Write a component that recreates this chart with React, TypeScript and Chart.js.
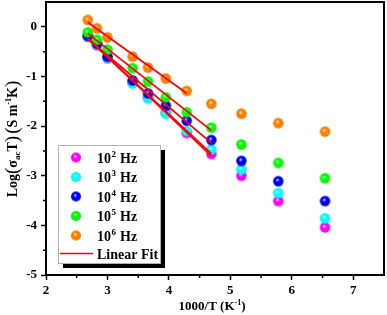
import React, { useEffect, useRef } from "react";
import { Chart, registerables } from "chart.js";

Chart.register(...registerables);

// 1000/T values (K^-1)
const xValues = [2.68, 2.83, 3.0, 3.41, 3.66, 3.95, 4.29, 4.69, 5.18, 5.78, 6.54];

// Log(sigma_ac T) per frequency
const f1e2 = [-0.2, -0.37, -0.63, -1.12, -1.42, -1.73, -2.14, -2.56, -3.0, -3.51, -4.04];
const f1e3 = [-0.19, -0.36, -0.62, -1.14, -1.44, -1.75, -2.1, -2.47, -2.87, -3.35, -3.86];
const f1e4 = [-0.18, -0.34, -0.6, -1.08, -1.34, -1.59, -1.89, -2.28, -2.7, -3.11, -3.51];
const f1e5 = [-0.11, -0.26, -0.46, -0.83, -1.1, -1.42, -1.72, -2.03, -2.37, -2.74, -3.05];
const f1e6 = [0.14, -0.03, -0.21, -0.6, -0.82, -1.04, -1.29, -1.55, -1.75, -1.94, -2.11];

const seriesValues = [f1e2, f1e3, f1e4, f1e5, f1e6];
const seriesExponents = ["2", "3", "4", "5", "6"];
const seriesLabels = ["10² Hz", "10³ Hz", "10⁴ Hz", "10⁵ Hz", "10⁶ Hz"];
const seriesColors = ["#ff00ff", "#00ffff", "#0000f0", "#00ff00", "#ff8000"];
const fitPointCounts = [8, 8, 8, 8, 7];
const fitLabel = "Linear Fit";

const xMinorTicks = [2.5, 3.5, 4.5, 5.5, 6.5];
const yMinorTicks = [-4.5, -3.5, -2.5, -1.5, -0.5];

const FONT = '"Liberation Serif", "Times New Roman", serif';

function shade(hex: string, f: number) {
  const n = parseInt(hex.slice(1), 16);
  let r = (n >> 16) & 255, g = (n >> 8) & 255, b = n & 255;
  if (f < 0) {
    r = Math.round(r * (1 + f)); g = Math.round(g * (1 + f)); b = Math.round(b * (1 + f));
  } else {
    r = Math.round(r + (255 - r) * f); g = Math.round(g + (255 - g) * f); b = Math.round(b + (255 - b) * f);
  }
  return `rgb(${r},${g},${b})`;
}

function makeBall(color: string, r: number) {
  const c = document.createElement("canvas");
  const s = Math.ceil(r * 2 + 2);
  c.width = s;
  c.height = s;
  const g = c.getContext("2d")!;
  const cx = s / 2, cy = s / 2;
  const grad = g.createRadialGradient(cx - r * 0.2, cy - r * 0.3, 0, cx, cy, r);
  grad.addColorStop(0, "#ffffff");
  grad.addColorStop(0.18, shade(color, 0.5));
  grad.addColorStop(0.4, color);
  grad.addColorStop(0.85, color);
  grad.addColorStop(1, shade(color, -0.15));
  g.fillStyle = grad;
  g.beginPath();
  g.arc(cx, cy, r, 0, Math.PI * 2);
  g.fill();
  return c;
}

function linearFit(xs: number[], ys: number[], n: number) {
  const xx = xs.slice(0, n), yy = ys.slice(0, n);
  const mx = xx.reduce((a, b) => a + b, 0) / n;
  const my = yy.reduce((a, b) => a + b, 0) / n;
  let sxy = 0, sxx = 0;
  for (let i = 0; i < n; i++) {
    sxy += (xx[i] - mx) * (yy[i] - my);
    sxx += (xx[i] - mx) * (xx[i] - mx);
  }
  const m = sxy / sxx;
  const b = my - m * mx;
  return [
    { x: xx[0], y: m * xx[0] + b },
    { x: xx[n - 1], y: m * xx[n - 1] + b },
  ];
}

type Seg = [string, number, number, boolean];

function drawSegs(ctx: CanvasRenderingContext2D, segs: Seg[], cx: number, baseY: number) {
  let total = 0;
  for (const [t, size, , bold] of segs) {
    ctx.font = `${bold ? "bold " : ""}${size}px ${FONT}`;
    total += ctx.measureText(t).width;
  }
  let x = cx - total / 2;
  ctx.textAlign = "left";
  ctx.textBaseline = "alphabetic";
  for (const [t, size, shift, bold] of segs) {
    ctx.font = `${bold ? "bold " : ""}${size}px ${FONT}`;
    ctx.fillText(t, x, baseY + shift);
    x += ctx.measureText(t).width;
  }
}

const zeroPadding = () => ({ left: 0, top: 0, right: 0, bottom: 0 });

export default function App() {
  const ref = useRef<HTMLCanvasElement>(null);

  useEffect(() => {
    document.body.style.margin = "0";
    const plotBalls = seriesColors.map((c) => makeBall(c, 5.2));
    const legendBalls = seriesColors.map((c) => makeBall(c, 5));

    const scatterSets = seriesValues.map((vals, i) => ({
      type: "scatter" as const,
      label: seriesLabels[i],
      data: vals.map((y, j) => ({ x: xValues[j], y })),
      pointStyle: plotBalls[i],
      pointRadius: 5,
      showLine: false,
      order: 5 - i,
    }));
    const fitSets = seriesValues.map((vals, i) => ({
      type: "scatter" as const,
      label: fitLabel,
      data: linearFit(xValues, vals, fitPointCounts[i]),
      showLine: true,
      pointRadius: 0,
      borderColor: "#ff0000",
      borderWidth: 1.8,
      order: 0,
    }));

    const decor = {
      id: "decor",
      afterDraw(chart: any) {
        const ctx = chart.ctx as CanvasRenderingContext2D;
        const a = chart.chartArea;
        const xs = chart.scales.x, ys = chart.scales.y;
        ctx.save();
        // frame
        ctx.strokeStyle = "#000";
        ctx.lineWidth = 2;
        ctx.strokeRect(a.left, a.top, a.right - a.left, a.bottom - a.top);
        // minor ticks
        ctx.lineWidth = 1.5;
        ctx.beginPath();
        for (const v of xMinorTicks) {
          const px = xs.getPixelForValue(v);
          ctx.moveTo(px, a.bottom);
          ctx.lineTo(px, a.bottom + 3);
        }
        for (const v of yMinorTicks) {
          const py = ys.getPixelForValue(v);
          ctx.moveTo(a.left - 3, py);
          ctx.lineTo(a.left, py);
        }
        ctx.stroke();

        ctx.fillStyle = "#000";
        // x title
        drawSegs(ctx, [
          ["1000/T (K", 13, 0, true],
          ["-1", 8, -5, true],
          [")", 13, 0, true],
        ], 212, 310);

        // y title rotated
        ctx.save();
        ctx.translate(12, 139);
        ctx.rotate(-Math.PI / 2);
        drawSegs(ctx, [
          ["Log", 14, 0, true],
          ["(", 19, 1, false],
          ["σ", 14, 0, true],
          ["ac", 9, 3, true],
          ["T", 14, 0, true],
          [")", 19, 1, false],
          [" ", 8, 0, true],
          ["(", 19, 1, false],
          ["S m", 14, 0, true],
          ["-1", 8, -6, true],
          ["K", 14, 0, true],
          [")", 19, 1, false],
        ], 0, 5);
        ctx.restore();

        // legend
        const lx = 58, ly = 145, lw = 102, lh = 118;
        ctx.fillStyle = "#000";
        ctx.fillRect(lx + 5, ly + 5, lw, lh);
        ctx.fillStyle = "#fff";
        ctx.fillRect(lx, ly, lw, lh);
        ctx.strokeStyle = "#b0b0b0";
        ctx.lineWidth = 1;
        ctx.strokeRect(lx + 0.5, ly + 0.5, lw, lh);
        const rowY = [157.5, 177, 196.5, 216, 235.5];
        for (let i = 0; i < seriesLabels.length; i++) {
          const b = legendBalls[i];
          ctx.drawImage(b, 76 - b.width / 2, rowY[i] - b.height / 2);
          ctx.fillStyle = "#000";
          ctx.textAlign = "left";
          ctx.textBaseline = "alphabetic";
          ctx.font = `bold 14px ${FONT}`;
          ctx.fillText("10", 97, rowY[i] + 5);
          let w = ctx.measureText("10").width;
          ctx.font = `bold 9px ${FONT}`;
          ctx.fillText(seriesExponents[i], 97 + w + 0.5, rowY[i] - 1);
          w += ctx.measureText(seriesExponents[i]).width + 1;
          ctx.font = `bold 14px ${FONT}`;
          ctx.fillText(" Hz", 97 + w, rowY[i] + 5);
        }
        ctx.strokeStyle = "#ff0000";
        ctx.lineWidth = 1.6;
        ctx.beginPath();
        ctx.moveTo(60, 253.5);
        ctx.lineTo(93, 253.5);
        ctx.stroke();
        ctx.fillStyle = "#000";
        ctx.font = `bold 14px ${FONT}`;
        ctx.fillText(fitLabel, 97, 258.5);
        ctx.restore();
      },
    };

    const chart = new Chart(ref.current!, {
      type: "scatter",
      data: { datasets: [...fitSets, ...scatterSets] as any },
      options: {
        animation: false,
        responsive: false,
        devicePixelRatio: 1,
        layout: { autoPadding: false, padding: { top: 2, right: 3, left: 0, bottom: 0 } },
        plugins: { legend: { display: false }, tooltip: { enabled: false }, title: { display: false } },
        scales: {
          x: {
            type: "linear",
            min: 2,
            max: 7.5,
            afterFit: (s: any) => {
              s.height = 40;
              s.paddingLeft = 0; s.paddingRight = 0; s.paddingTop = 0; s.paddingBottom = 0;
              s.getPadding = zeroPadding;
            },
            border: { display: false },
            grid: {
              drawOnChartArea: false,
              drawTicks: true,
              tickLength: 5,
              tickWidth: 1.5,
              tickColor: "#000",
            },
            ticks: {
              stepSize: 1,
              includeBounds: false,
              autoSkip: false,
              maxRotation: 0,
              padding: 3,
              color: "#000",
              font: { family: FONT, size: 13, weight: "bold" },
            },
          },
          y: {
            type: "linear",
            min: -5,
            max: 0.5,
            afterFit: (s: any) => {
              s.width = 46;
              s.paddingLeft = 0; s.paddingRight = 0; s.paddingTop = 0; s.paddingBottom = 0;
              s.getPadding = zeroPadding;
            },
            border: { display: false },
            grid: {
              drawOnChartArea: false,
              drawTicks: true,
              tickLength: 5,
              tickWidth: 1.5,
              tickColor: "#000",
            },
            ticks: {
              stepSize: 1,
              includeBounds: false,
              autoSkip: false,
              padding: 4,
              color: "#000",
              font: { family: FONT, size: 13, weight: "bold" },
            },
          },
        },
      },
      plugins: [decor],
    });
    return () => chart.destroy();
  }, []);

  return (
    <div style={{ position: "absolute", left: 0, top: 0, width: 387, height: 315 }}>
      <canvas ref={ref} width={387} height={315} style={{ display: "block" }} />
    </div>
  );
}
